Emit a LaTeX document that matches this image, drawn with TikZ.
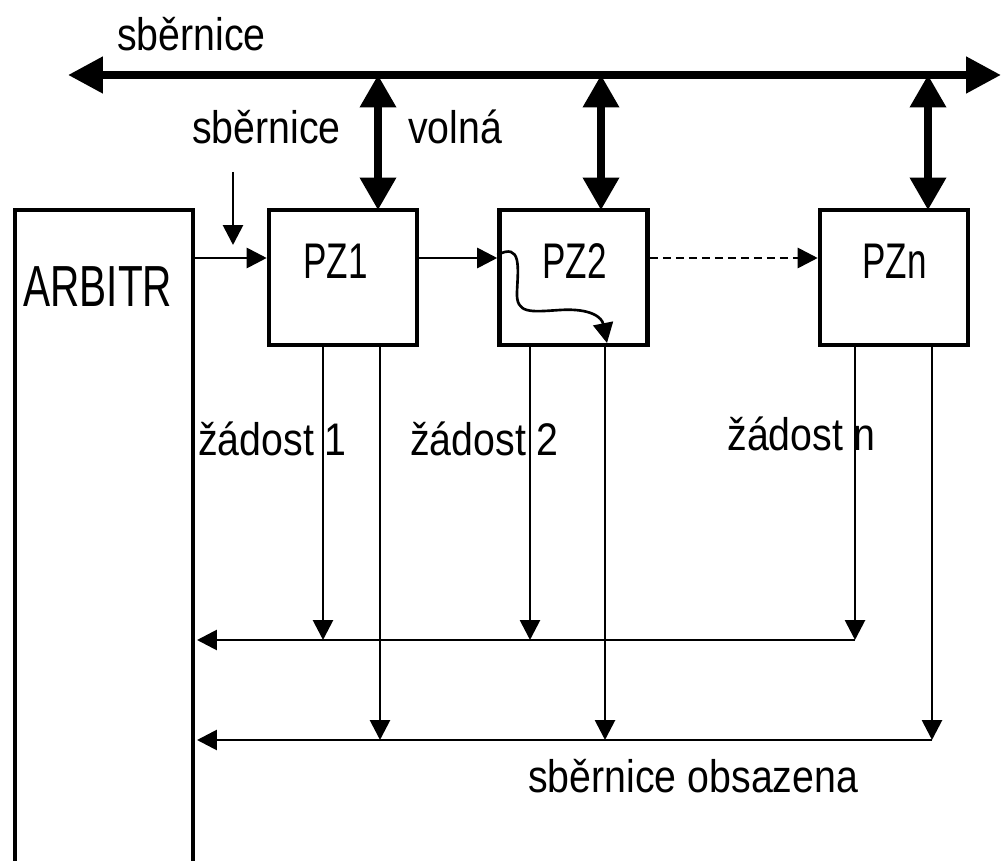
\documentclass[tikz,border=0pt]{standalone}
\usepackage{fontspec}
\setmainfont[FakeStretch=0.86]{Liberation Sans}
\newfontfamily\boxfont[FakeStretch=0.7]{Liberation Sans}
\usepackage{tikz}
\usetikzlibrary{arrows.meta,positioning,calc}

\tikzset{
  box/.style={draw,line width=2.6pt,minimum width=2.96cm,minimum height=2.7cm,inner sep=0pt},
  sig/.style={line width=1.6pt,-{Triangle[length=0.4cm,width=0.4cm]}},
  bus/.style={line width=4.5pt,{Triangle[length=0.7cm,width=0.7cm]}-{Triangle[length=0.7cm,width=0.7cm]}},
  link/.style={line width=4pt,{Triangle[length=0.65cm,width=0.7cm]}-{Triangle[length=0.65cm,width=0.7cm]}},
  lbl/.style={inner sep=0pt,anchor=base west},
  boxlbl/.style={inner sep=0pt,anchor=base west,font=\boxfont\fontsize{28.5}{32}\selectfont}
}

\begin{document}
\begin{tikzpicture}[x=0.02cm,y=-0.02cm,font=\fontsize{26}{30}\selectfont]
\useasboundingbox (0,0) rectangle (1001,861);
% units
\node[box] (pz1) at (343,277.5) {};
\node[box] (pz2) at (573.5,277.5) {};
\node[box] (pzn) at (894,277.5) {};
\node[boxlbl] (pz1t) at (303,279) {PZ1};
\node[boxlbl] (pz2t) at (542,279) {PZ2};
\node[boxlbl] (pznt) at (862,279) {PZn};
% arbiter (open at the bottom)
\draw[line width=2.6pt] (15,861) -- (15,210) -- (193,210) -- (193,861);
\node[boxlbl,font=\boxfont\fontsize{33}{36}\selectfont] (arb) at (23,307) {ARBITR};
\coordinate (arbout) at (193,258);
% bus
\coordinate (busL) at (68,75);
\coordinate (busR) at (1001,75);
\draw[bus] (busL) -- (busR);
\node[lbl] (bustxt) at (117,51) {sběrnice};
\draw[link] (378,75) -- (378,210);
\draw[link] (601,75) -- (601,210);
\draw[link] (928,75) -- (928,210);
\node[lbl] (free1) at (192,144) {sběrnice};
\node[lbl] (free2) at (408,144) {volná};
% daisy chain
\coordinate (fa) at (233,172);
\draw[sig] (fa) -- (233,245);
\draw[sig] (arbout) -- (arbout -| pz1.west);
\draw[sig] (pz1.east |- arbout) -- (pz2.west |- arbout);
\draw[sig,dash pattern=on 0.16cm off 0.1cm] (pz2.east |- arbout) -- (pzn.west |- arbout);
\draw[line width=1.5pt,-{Triangle[length=0.4cm,width=0.4cm]}] (pz2.west |- 0,255)
  .. controls (522,242) and (518,268) .. (517,292)
  .. controls (516,314) and (530,312) .. (560,310)
  .. controls (592,308) and (602,318) .. (607,343);
% requests and busy lines
\coordinate (req) at (197,640);
\coordinate (busy) at (197,740);
\coordinate (reqe) at (855,640);
\coordinate (busye) at (932,740);
\draw[sig] (reqe) -- (req);
\draw[sig] (busye) -- (busy);
\draw[sig] (323,345) -- (323,640);
\draw[sig] (380,345) -- (380,740);
\draw[sig] (530,345) -- (530,640);
\draw[sig] (605,345) -- (605,740);
\draw[sig] (855,345) -- (reqe);
\draw[sig] (932,345) -- (busye);
\node[lbl] (z1) at (198,456) {žádost 1};
\node[lbl] (z2) at (410,456) {žádost 2};
\node[lbl] (zn) at (727,451) {žádost n};
\node[lbl] (obs) at (528,792) {sběrnice obsazena};
\end{tikzpicture}
\end{document}
